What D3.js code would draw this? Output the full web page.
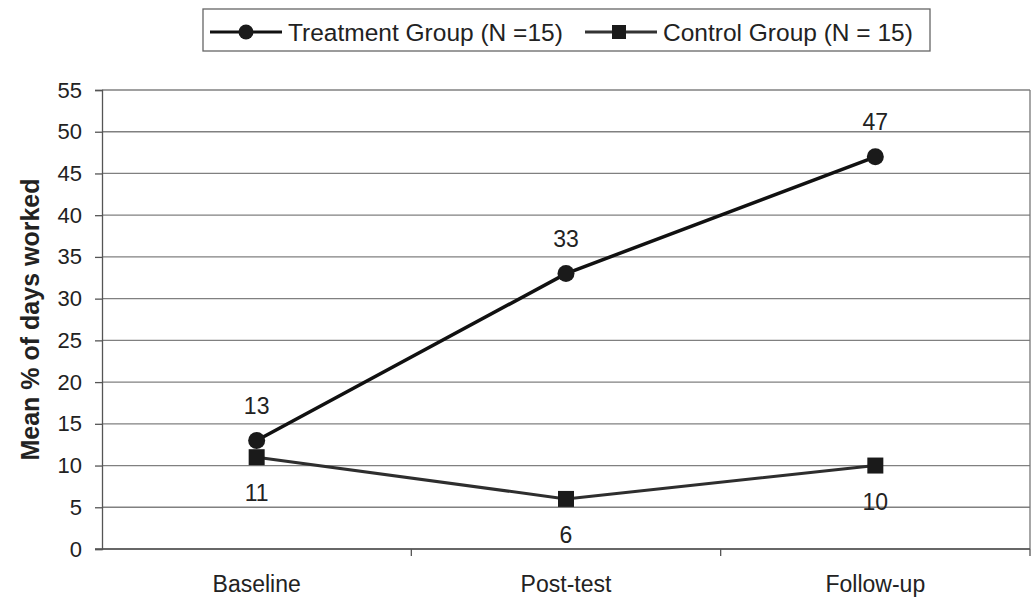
<!DOCTYPE html>
<html>
<head>
<meta charset="utf-8">
<script src="https://cdn.jsdelivr.net/npm/d3@7"></script>
<style>
  body { margin: 0; background: #fff; }
  text { font-family: "Liberation Sans", Arial, sans-serif; fill: #222; }
</style>
</head>
<body>
<svg id="chart"></svg>
<script>
const width = 1033;
const height = 597;

// donnees
const phases = ["Baseline", "Post-test", "Follow-up"];
const treatment = [13, 33, 47];
const control = [11, 6, 10];
const yTicks = [0, 5, 10, 15, 20, 25, 30, 35, 40, 45, 50, 55];
const seriesNames = ["Treatment Group (N =15)", "Control Group (N = 15)"];

const margin = {top: 90, right: 3, bottom: 48, left: 102};

const svg = d3.select("#chart")
  .attr("width", width)
  .attr("height", height);

const x = d3.scaleBand()
  .domain(phases)
  .range([margin.left, width - margin.right]);

const y = d3.scaleLinear()
  .domain([0, 55])
  .range([height - margin.bottom, margin.top]);

// grille horizontale
svg.append("g")
  .selectAll("line")
  .data(yTicks)
  .join("line")
  .attr("x1", margin.left)
  .attr("x2", width - margin.right)
  .attr("y1", d => y(d))
  .attr("y2", d => y(d))
  .attr("stroke", "#808080")
  .attr("stroke-width", 1.3);

// bord droit de la zone
svg.append("line")
  .attr("x1", width - margin.right)
  .attr("x2", width - margin.right)
  .attr("y1", y(55))
  .attr("y2", y(0))
  .attr("stroke", "#777")
  .attr("stroke-width", 1.3);

// axe Y
const yAxis = svg.append("g")
  .attr("transform", `translate(${margin.left},0)`)
  .call(d3.axisLeft(y).tickValues(yTicks).tickSize(7).tickPadding(13));
yAxis.select(".domain").attr("stroke", "#555").attr("stroke-width", 1.3);
yAxis.selectAll(".tick line").attr("stroke", "#555").attr("stroke-width", 1.3);
yAxis.selectAll(".tick text")
  .attr("font-size", 22)
  .attr("font-family", "Liberation Sans, Arial, sans-serif")
  .attr("fill", "#222");

// axe X : petites marques aux limites des categories
const xAxis = svg.append("g")
  .attr("transform", `translate(0,${y(0)})`);
xAxis.append("line")
  .attr("x1", margin.left - 7)
  .attr("x2", width - margin.right)
  .attr("stroke", "#555")
  .attr("stroke-width", 1.3);
xAxis.selectAll("line.tk")
  .data(phases)
  .join("line")
  .attr("class", "tk")
  .attr("x1", d => x(d) + x.bandwidth())
  .attr("x2", d => x(d) + x.bandwidth())
  .attr("y1", 0)
  .attr("y2", 7)
  .attr("stroke", "#555")
  .attr("stroke-width", 1.3);
xAxis.selectAll("text")
  .data(phases)
  .join("text")
  .attr("x", d => x(d) + x.bandwidth() / 2)
  .attr("y", 43)
  .attr("text-anchor", "middle")
  .attr("font-size", 23)
  .text(d => d);

// titre axe Y
svg.append("text")
  .attr("transform", `translate(39,${(y(0) + y(55)) / 2}) rotate(-90)`)
  .attr("text-anchor", "middle")
  .attr("font-size", 25)
  .attr("font-weight", "bold")
  .text("Mean % of days worked");

const cx = d => x(d) + x.bandwidth() / 2;
const line = d3.line()
  .x((d, i) => cx(phases[i]))
  .y(d => y(d));

// serie controle
svg.append("path")
  .datum(control)
  .attr("d", line)
  .attr("fill", "none")
  .attr("stroke", "#2e2e2e")
  .attr("stroke-width", 3);
svg.selectAll("rect.ctrl")
  .data(control)
  .join("rect")
  .attr("class", "ctrl")
  .attr("x", (d, i) => cx(phases[i]) - 8)
  .attr("y", d => y(d) - 8)
  .attr("width", 16)
  .attr("height", 16)
  .attr("fill", "#1a1a1a");

// serie traitement
svg.append("path")
  .datum(treatment)
  .attr("d", line)
  .attr("fill", "none")
  .attr("stroke", "#111")
  .attr("stroke-width", 3.5);
svg.selectAll("circle.trt")
  .data(treatment)
  .join("circle")
  .attr("class", "trt")
  .attr("cx", (d, i) => cx(phases[i]))
  .attr("cy", d => y(d))
  .attr("r", 8.5)
  .attr("fill", "#1a1a1a");

// etiquettes de valeurs
svg.selectAll("text.lblT")
  .data(treatment)
  .join("text")
  .attr("class", "lblT")
  .attr("x", (d, i) => cx(phases[i]))
  .attr("y", d => y(d) - 27)
  .attr("text-anchor", "middle")
  .attr("font-size", 23)
  .text(d => d);
svg.selectAll("text.lblC")
  .data(control)
  .join("text")
  .attr("class", "lblC")
  .attr("x", (d, i) => cx(phases[i]))
  .attr("y", d => y(d) + 44)
  .attr("text-anchor", "middle")
  .attr("font-size", 23)
  .text(d => d);

// legende
const leg = svg.append("g");
leg.append("rect")
  .attr("x", 203)
  .attr("y", 9)
  .attr("width", 727)
  .attr("height", 42)
  .attr("fill", "#fff")
  .attr("stroke", "#666")
  .attr("stroke-width", 1.3);

const legItems = [
  {name: seriesNames[0], x0: 210, shape: "circle"},
  {name: seriesNames[1], x0: 585, shape: "square"}
];
legItems.forEach(it => {
  leg.append("line")
    .attr("x1", it.x0)
    .attr("x2", it.x0 + 72)
    .attr("y1", 32)
    .attr("y2", 32)
    .attr("stroke", it.shape === "circle" ? "#111" : "#333")
    .attr("stroke-width", 3);
  if (it.shape === "circle") {
    leg.append("circle")
      .attr("cx", it.x0 + 36)
      .attr("cy", 32)
      .attr("r", 7.5)
      .attr("fill", "#1a1a1a");
  } else {
    leg.append("rect")
      .attr("x", it.x0 + 27)
      .attr("y", 25)
      .attr("width", 14)
      .attr("height", 14)
      .attr("fill", "#1a1a1a");
  }
  leg.append("text")
    .attr("x", it.x0 + 78)
    .attr("y", 41)
    .attr("font-size", 24.5)
    .text(it.name);
});
</script>
</body>
</html>
